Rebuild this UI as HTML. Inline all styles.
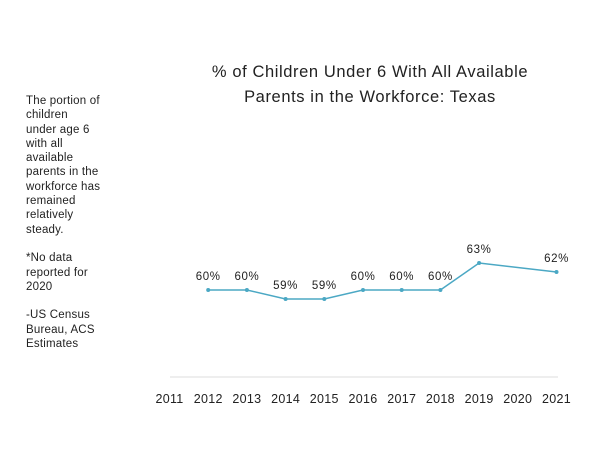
<!DOCTYPE html>
<html><head><meta charset="utf-8"><style>
body{margin:0;background:#fff;width:600px;height:450px;overflow:hidden;font-family:"Liberation Sans",sans-serif;color:#222}
#title{position:absolute;left:160px;top:60px;width:420px;text-align:center;font-size:16.5px;line-height:25px;letter-spacing:0.6px}
#note{position:absolute;left:26px;top:94px;width:120px;font-size:11.5px;line-height:14.3px;letter-spacing:0.2px}
</style></head><body>
<div id="title">% of Children Under 6 With All Available<br>Parents in the Workforce: Texas</div>
<div id="note">The portion of<br>children<br>under age 6<br>with all<br>available<br>parents in the<br>workforce has<br>remained<br>relatively<br>steady.<br><br>*No data<br>reported for<br>2020<br><br>-US Census<br>Bureau, ACS<br>Estimates</div>
<svg id="chart" width="600" height="450" style="position:absolute;left:0;top:0"></svg>
<script>
const years=["2011","2012","2013","2014","2015","2016","2017","2018","2019","2020","2021"];
const values=[null,60,60,59,59,60,60,60,63,null,62];
const ns="http://www.w3.org/2000/svg";
const svg=document.getElementById('chart');
function xs(i){return 169.5+i*38.7;}
function ys(v){return 290-(v-60)*9;}
function mk(t,a){const e=document.createElementNS(ns,t);for(const k in a)e.setAttribute(k,a[k]);svg.appendChild(e);return e;}
const g=mk('line',{x1:170,x2:558,y1:377,y2:377,stroke:'#ddd','stroke-width':1});


years.forEach((y,i)=>{const t=mk('text',{x:xs(i),y:403,'text-anchor':'middle','font-size':12.5,'letter-spacing':0.3,fill:'#222'});t.textContent=y;

});
let pts=[];values.forEach((v,i)=>{if(v!=null)pts.push([xs(i),ys(v)]);});
const p=mk('polyline',{points:pts.map(q=>q.join(',')).join(' '),fill:'none',stroke:'#4ba8c4','stroke-width':1.5});


values.forEach((v,i)=>{if(v==null)return;
const c=mk('circle',{cx:xs(i),cy:ys(v),r:2,fill:'#4ba8c4'});


const t=mk('text',{x:xs(i),y:ys(v)-10,'text-anchor':'middle','font-size':11.5,'letter-spacing':0.6,fill:'#222'});t.textContent=v+'%';

});
</script>
</body></html>
